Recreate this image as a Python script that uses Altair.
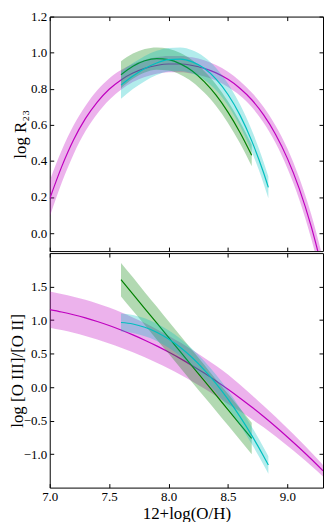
import altair as alt
import pandas as pd

# ---------------- data ----------------
# magenta model (full metallicity range)
x_m = [7.0, 7.1, 7.2, 7.3, 7.4, 7.5, 7.6, 7.7, 7.8, 7.9, 8.0, 8.1,
       8.2, 8.3, 8.4, 8.5, 8.6, 8.7, 8.8, 8.9, 9.0, 9.1, 9.2, 9.3]
r23_m = [0.19, 0.367, 0.516, 0.634, 0.726, 0.797, 0.849, 0.887, 0.913, 0.929, 0.937, 0.937,
         0.929, 0.913, 0.888, 0.852, 0.803, 0.739, 0.655, 0.548, 0.414, 0.246, 0.038, -0.214]
r23_m_err = [0.10, 0.09, 0.08, 0.07, 0.065, 0.06, 0.055, 0.05, 0.048, 0.046, 0.045, 0.045,
             0.045, 0.045, 0.043, 0.042, 0.04, 0.04, 0.044, 0.048, 0.055, 0.06, 0.067, 0.072]
o32_m = [1.156, 1.121, 1.080, 1.033, 0.979, 0.919, 0.852, 0.779, 0.700, 0.615, 0.523, 0.425,
         0.320, 0.209, 0.092, -0.032, -0.162, -0.298, -0.440, -0.589, -0.745, -0.906, -1.074, -1.249]
o32_m_err = [0.27, 0.27, 0.27, 0.27, 0.27, 0.27, 0.265, 0.26, 0.255, 0.25, 0.245, 0.24,
             0.235, 0.23, 0.225, 0.22, 0.20, 0.18, 0.16, 0.145, 0.13, 0.115, 0.10, 0.085]

# green model
x_g = [7.6, 7.7, 7.8, 7.9, 8.0, 8.1, 8.2, 8.3, 8.4, 8.5, 8.6, 8.7]
r23_g = [0.878, 0.925, 0.955, 0.967, 0.961, 0.938, 0.898, 0.839, 0.764, 0.670, 0.559, 0.431]
r23_g_err = [0.075, 0.07, 0.065, 0.062, 0.06, 0.06, 0.06, 0.06, 0.06, 0.06, 0.06, 0.06]
o32_g = [1.603, 1.388, 1.172, 0.957, 0.741, 0.526, 0.310, 0.095, -0.121, -0.336, -0.552, -0.767]
o32_g_err = [0.25, 0.25, 0.245, 0.245, 0.24, 0.24, 0.24, 0.24, 0.235, 0.235, 0.235, 0.235]

# cyan model
x_c = [7.6, 7.7, 7.8, 7.9, 8.0, 8.1, 8.2, 8.3, 8.4, 8.5, 8.6, 8.7, 8.8, 8.84]
r23_c = [0.820, 0.870, 0.912, 0.943, 0.961, 0.964, 0.949, 0.913, 0.853, 0.768, 0.655, 0.511, 0.334, 0.253]
r23_c_err = [0.075, 0.072, 0.07, 0.067, 0.065, 0.065, 0.064, 0.063, 0.062, 0.061, 0.06, 0.06, 0.06, 0.06]
o32_c = [0.964, 0.942, 0.893, 0.819, 0.718, 0.591, 0.438, 0.258, 0.053, -0.179, -0.437, -0.721, -1.031, -1.162]
o32_c_err = [0.135, 0.135, 0.135, 0.13, 0.13, 0.13, 0.13, 0.13, 0.13, 0.13, 0.13, 0.13, 0.13, 0.13]

MAG, GRN, CYN = "#bf00bf", "#008000", "#00bfbf"
FONT = "Liberation Serif"

x_ticks = [7.0, 7.5, 8.0, 8.5, 9.0]
top_ticks = [0.0, 0.2, 0.4, 0.6, 0.8, 1.0, 1.2]
bot_ticks = [-1.0, -0.5, 0.0, 0.5, 1.0, 1.5]


def frame(xs, r23, r23e, o32, o32e):
    return pd.DataFrame({
        "X": xs,
        "r23": r23,
        "r23_lo": [v - e for v, e in zip(r23, r23e)],
        "r23_hi": [v + e for v, e in zip(r23, r23e)],
        "o32": o32,
        "o32_lo": [v - e for v, e in zip(o32, o32e)],
        "o32_hi": [v + e for v, e in zip(o32, o32e)],
    })


d_m = frame(x_m, r23_m, r23_m_err, o32_m, o32_m_err)
d_g = frame(x_g, r23_g, r23_g_err, o32_g, o32_g_err)
d_c = frame(x_c, r23_c, r23_c_err, o32_c, o32_c_err)

tick_common = dict(domain=False, ticks=True, tickSize=4, tickWidth=1, tickColor="black",
                   offset=-4, grid=False, labelFlush=False, labelOverlap=False)


def axis(orient, values, labels=False, title=None, titleX=None):
    kw = dict(tick_common)
    kw.update(orient=orient, values=values, labels=labels)
    if labels:
        kw.update(format=".1f", labelFont=FONT, labelFontSize=13, labelColor="black",
                  labelPadding=3)
    if title is not None:
        kw.update(title=title, titleFont=FONT, titleFontSize=17, titleFontWeight="normal",
                  titleColor="black")
        if titleX is not None:
            kw.update(titleX=titleX, titleBaseline="middle")
        else:
            kw.update(titlePadding=2)
    else:
        kw.update(title=None)
    return alt.Axis(**kw)


def panel(var, ydom, yvals, ytitle, titleX, xlabels):
    xs = alt.Scale(domain=[7.0, 9.3], nice=False, zero=False)
    ys = alt.Scale(domain=ydom, nice=False, zero=False)
    layers = []
    for i, (df, col) in enumerate([(d_m, MAG), (d_g, GRN), (d_c, CYN)]):
        if i == 0:
            xa1 = axis("bottom", x_ticks, labels=xlabels,
                       title="12+log(O/H)" if xlabels else None)
            ya1 = axis("left", yvals, labels=True, title=ytitle, titleX=titleX)
            xa2 = axis("top", x_ticks)
            ya2 = axis("right", yvals)
        else:
            xa1 = ya1 = xa2 = ya2 = None
        band = alt.Chart(df).mark_area(color=col, opacity=0.3, clip=True,
                                       interpolate="monotone").encode(
            x=alt.X("X:Q", scale=xs, axis=xa1),
            y=alt.Y(f"{var}_lo:Q", scale=ys, axis=ya1),
            y2=f"{var}_hi:Q",
        )
        line = alt.Chart(df).mark_line(color=col, strokeWidth=1.2, clip=True,
                                       interpolate="monotone").encode(
            x=alt.X("X:Q", scale=xs, axis=xa2),
            y=alt.Y(f"{var}:Q", scale=ys, axis=ya2),
        )
        layers += [band, line]
    return alt.layer(*layers).resolve_axis(x="independent", y="independent").properties(
        width=275, height=236)


top = panel("r23", [-0.1, 1.2], top_ticks, "log R₂₃", -33, False)
bottom = panel("o32", [-1.5, 2.0], bot_ticks, "log [O III]/[O II]", -36, True)

chart = alt.vconcat(top, bottom, spacing=0).properties(
    padding={"left": 0, "top": 0, "right": 0, "bottom": 0}
).configure_view(stroke="black", strokeWidth=1).configure_axis(
    labelFont=FONT, titleFont=FONT
)

chart.save("out.html", embed_options={"renderer": "svg", "actions": False})
